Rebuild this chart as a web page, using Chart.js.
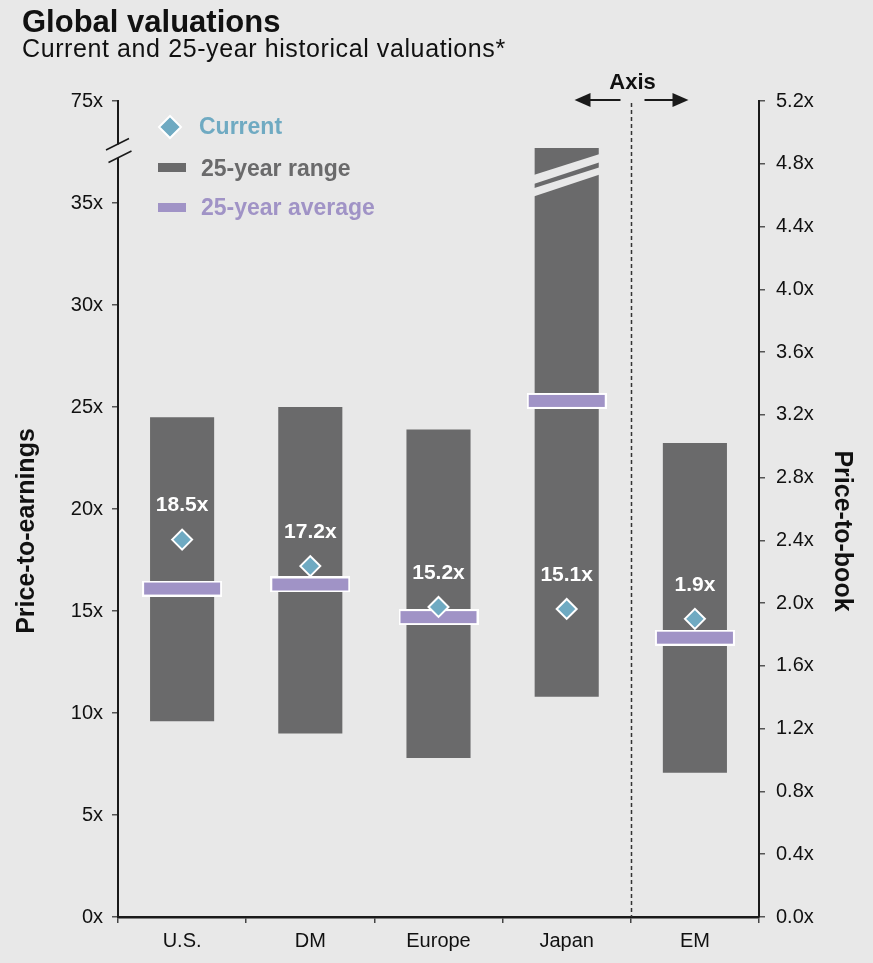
<!DOCTYPE html>
<html>
<head>
<meta charset="utf-8">
<script src="https://cdn.jsdelivr.net/npm/chart.js@4.4.1/dist/chart.umd.min.js"></script>
<style>
  html, body { margin: 0; padding: 0; background: #e8e8e8; }
  #wrap { position: relative; width: 873px; height: 963px; overflow: hidden; }
  #c { position: absolute; left: 0; top: 0; }
  .title { position: absolute; left: 22px; top: 6px; font: bold 31px/31px "Liberation Sans", Arial, sans-serif; color: #111; white-space: nowrap; }
  .sub { position: absolute; left: 22px; top: 36px; font: 25px/25px "Liberation Sans", Arial, sans-serif; letter-spacing: 0.6px; color: #111; white-space: nowrap; }
</style>
</head>
<body>
<div id="wrap">
  <canvas id="c" width="873" height="963"></canvas>
  <div class="title">Global valuations</div>
  <div class="sub">Current and 25-year historical valuations*</div>
</div>
<script>
// ---------------- data ----------------
const categories    = ['U.S.', 'DM', 'Europe', 'Japan', 'EM'];
const valueAxis     = ['pe', 'pe', 'pe', 'pe', 'pb'];      // EM is read on the price-to-book axis
const rangeLow      = [9.6, 9.0, 7.8, 10.8, 0.92];
const rangeHigh     = [24.5, 25.0, 23.9, 37.7, 3.02];        // Japan range truncated (broken bar)
const truncated     = [false, false, false, true, false];
const average       = [16.1, 16.3, 14.7, 25.3, 1.78];
const current       = [18.5, 17.2, 15.2, 15.1, 1.9];
const currentLabels = ['18.5x', '17.2x', '15.2x', '15.1x', '1.9x'];
const peTickLabels  = ['0x', '5x', '10x', '15x', '20x', '25x', '30x', '35x', '75x'];
const pbTickLabels  = ['0.0x', '0.4x', '0.8x', '1.2x', '1.6x', '2.0x', '2.4x', '2.8x', '3.2x', '3.6x', '4.0x', '4.4x', '4.8x', '5.2x'];
const legendLabels  = ['Current', '25-year range', '25-year average'];
const axisTitles    = ['Price-to-earnings', 'Price-to-book'];

// ---------------- styles ----------------
const BG = '#e8e8e8';
const GRAY = '#6a6a6b';
const PURPLE = '#a093c6';
const BLUE = '#6faac2';
const INK = '#111111';
const FONT = '"Liberation Sans", Arial, Helvetica, sans-serif';
Chart.defaults.font.family = FONT;

const avgImg = document.createElement('canvas');
avgImg.width = 80; avgImg.height = 16;
(function () {
  const g = avgImg.getContext('2d');
  g.fillStyle = '#ffffff'; g.fillRect(0, 0, 80, 16);
  g.fillStyle = PURPLE; g.fillRect(2, 2, 76, 12);
})();

const pick = (arr, ax) => arr.map((v, i) => valueAxis[i] === ax ? v : null);
const pickRange = ax => rangeLow.map((lo, i) => valueAxis[i] === ax ? [lo, rangeHigh[i]] : null);

const pointDs = (data, yAxisID) => ({
  type: 'line', data, yAxisID, showLine: false, order: 0,
  pointStyle: 'rectRot', pointRadius: 10, pointHoverRadius: 10,
  pointBackgroundColor: BLUE, pointBorderColor: '#ffffff', pointBorderWidth: 2
});
const avgDs = (data, yAxisID) => ({
  type: 'line', data, yAxisID, showLine: false, order: 1,
  pointStyle: avgImg, pointRadius: 10, pointHoverRadius: 10
});
const rangeDs = (data, yAxisID) => ({
  type: 'bar', data, yAxisID, order: 2, grouped: false,
  backgroundColor: GRAY, borderWidth: 0, barPercentage: 0.5, categoryPercentage: 1
});

const decor = {
  id: 'decor',
  afterDatasetsDraw(chart) {
    const ctx = chart.ctx;
    // broken (truncated) bar marks
    [4, 5].forEach(di => {
      const meta = chart.getDatasetMeta(di);
      meta.data.forEach((el, i) => {
        if (!truncated[i] || chart.data.datasets[di].data[i] == null) return;
        const L = el.x - el.width / 2, R = el.x + el.width / 2, T = Math.min(el.y, el.base);
        ctx.save();
        ctx.fillStyle = BG;
        [[27, 6, 14.4, 36], [40.4, 19.4, 26.7, 48.7]].forEach(b => {
          ctx.beginPath();
          ctx.moveTo(L - 1, T + b[0]); ctx.lineTo(R + 1, T + b[1]);
          ctx.lineTo(R + 1, T + b[2]); ctx.lineTo(L - 1, T + b[3]);
          ctx.closePath(); ctx.fill();
        });
        ctx.restore();
      });
    });
    // current-value labels
    ctx.save();
    ctx.fillStyle = '#ffffff';
    ctx.font = 'bold 21px ' + FONT;
    ctx.textAlign = 'center';
    ctx.textBaseline = 'middle';
    [0, 1].forEach(di => {
      const meta = chart.getDatasetMeta(di);
      meta.data.forEach((el, i) => {
        if (chart.data.datasets[di].data[i] == null) return;
        ctx.fillText(currentLabels[i], el.x, el.y - 34);
      });
    });
    ctx.restore();
  },
  afterDraw(chart) {
    const ctx = chart.ctx;
    const a = chart.chartArea;
    const ys = chart.scales.y, xs = chart.scales.x;
    ctx.save();
    // axis break on left axis
    const p35 = ys.getPixelForValue(35);
    const bc = (a.top + p35) / 2 - 1;
    ctx.fillStyle = BG;
    ctx.fillRect(a.left - 3, bc - 6.5, 6, 13.5);
    ctx.strokeStyle = '#1a1a1a';
    ctx.lineWidth = 1.5;
    ctx.beginPath();
    ctx.moveTo(a.left - 12, bc - 1); ctx.lineTo(a.left + 11, bc - 12.5);
    ctx.moveTo(a.left - 9.5, bc + 11.5); ctx.lineTo(a.left + 13.5, bc);
    ctx.stroke();

    // dashed divider between PE and PB categories
    const dx = Math.round(xs.getPixelForValue(3.5)) + 0.5;
    ctx.strokeStyle = '#333';
    ctx.lineWidth = 1.5;
    ctx.setLineDash([4, 3]);
    ctx.beginPath(); ctx.moveTo(dx, a.top + 2); ctx.lineTo(dx, a.bottom); ctx.stroke();
    ctx.setLineDash([]);
    // "Axis" label with arrows
    ctx.fillStyle = INK;
    ctx.font = 'bold 22px ' + FONT;
    ctx.textAlign = 'center';
    ctx.textBaseline = 'alphabetic';
    ctx.fillText('Axis', dx + 1, a.top - 12);
    const ay = a.top - 1;
    ctx.strokeStyle = '#1a1a1a'; ctx.fillStyle = '#1a1a1a'; ctx.lineWidth = 2;
    ctx.beginPath(); ctx.moveTo(dx - 11, ay); ctx.lineTo(dx - 42, ay); ctx.stroke();
    ctx.beginPath(); ctx.moveTo(dx - 57, ay); ctx.lineTo(dx - 41, ay - 7); ctx.lineTo(dx - 41, ay + 7); ctx.closePath(); ctx.fill();
    ctx.beginPath(); ctx.moveTo(dx + 13, ay); ctx.lineTo(dx + 42, ay); ctx.stroke();
    ctx.beginPath(); ctx.moveTo(dx + 57, ay); ctx.lineTo(dx + 41, ay - 7); ctx.lineTo(dx + 41, ay + 7); ctx.closePath(); ctx.fill();

    // legend
    const lx = a.left;
    ctx.font = 'bold 23px ' + FONT;
    ctx.textAlign = 'left';
    ctx.textBaseline = 'alphabetic';
    const cx = lx + 52, cy = a.top + 26, r = 11;
    ctx.beginPath();
    ctx.moveTo(cx, cy - r); ctx.lineTo(cx + r, cy); ctx.lineTo(cx, cy + r); ctx.lineTo(cx - r, cy); ctx.closePath();
    ctx.fillStyle = BLUE; ctx.fill();
    ctx.strokeStyle = '#fff'; ctx.lineWidth = 2; ctx.stroke();
    ctx.fillStyle = BLUE;
    ctx.fillText(legendLabels[0], lx + 81, a.top + 33);
    ctx.fillStyle = GRAY;
    ctx.fillRect(lx + 40, a.top + 62, 28, 9);
    ctx.fillText(legendLabels[1], lx + 83, a.top + 75);
    ctx.fillStyle = PURPLE;
    ctx.fillRect(lx + 40, a.top + 102, 28, 9);
    ctx.fillText(legendLabels[2], lx + 83, a.top + 114);

    // axis titles
    const my = (a.top + a.bottom) / 2 + 22;
    ctx.fillStyle = INK;
    ctx.font = 'bold 25px ' + FONT;
    ctx.textAlign = 'center';
    ctx.textBaseline = 'middle';
    ctx.save(); ctx.translate(27, my); ctx.rotate(-Math.PI / 2); ctx.fillText(axisTitles[0], 0, 0); ctx.restore();
    ctx.save(); ctx.translate(chart.width - 31, my); ctx.rotate(Math.PI / 2); ctx.fillText(axisTitles[1], 0, 0); ctx.restore();
    ctx.restore();
  }
};

new Chart(document.getElementById('c'), {
  type: 'bar',
  data: {
    labels: categories,
    datasets: [
      pointDs(pick(current, 'pe'), 'y'),
      pointDs(pick(current, 'pb'), 'y1'),
      avgDs(pick(average, 'pe'), 'y'),
      avgDs(pick(average, 'pb'), 'y1'),
      rangeDs(pickRange('pe'), 'y'),
      rangeDs(pickRange('pb'), 'y1')
    ]
  },
  options: {
    responsive: false,
    animation: false,
    events: [],
    layout: { padding: { top: 101, left: 0, right: 0, bottom: 0 } },
    plugins: { legend: { display: false }, tooltip: { enabled: false }, title: { display: false } },
    scales: {
      x: {
        offset: true,
        grid: { display: true, offset: true, drawOnChartArea: false, drawTicks: true, tickLength: 6, color: '#444', lineWidth: 1.5 },
        border: { display: true, color: '#1a1a1a', width: 2.5 },
        ticks: { color: INK, font: { size: 20 }, padding: 6, maxRotation: 0 },
        afterFit(s) { s.height = 46; }
      },
      y: {
        position: 'left', min: 0, max: 40,
        ticks: { stepSize: 5, color: INK, font: { size: 20 }, padding: 9, callback: (v, i) => peTickLabels[i] },
        grid: { drawOnChartArea: false, drawTicks: true, tickLength: 6, color: '#555', lineWidth: 1.5 },
        border: { display: true, color: '#1a1a1a', width: 2 },
        afterFit(s) { s.width = 118; }
      },
      y1: {
        position: 'right', min: 0, max: 5.2,
        ticks: { stepSize: 0.4, color: INK, font: { size: 20 }, padding: 11, callback: (v, i) => pbTickLabels[i] },
        grid: { drawOnChartArea: false, drawTicks: true, tickLength: 6, color: '#555', lineWidth: 1.5 },
        border: { display: true, color: '#1a1a1a', width: 2 },
        afterFit(s) { s.width = 114; }
      }
    }
  },
  plugins: [decor]
});
</script>
</body>
</html>
